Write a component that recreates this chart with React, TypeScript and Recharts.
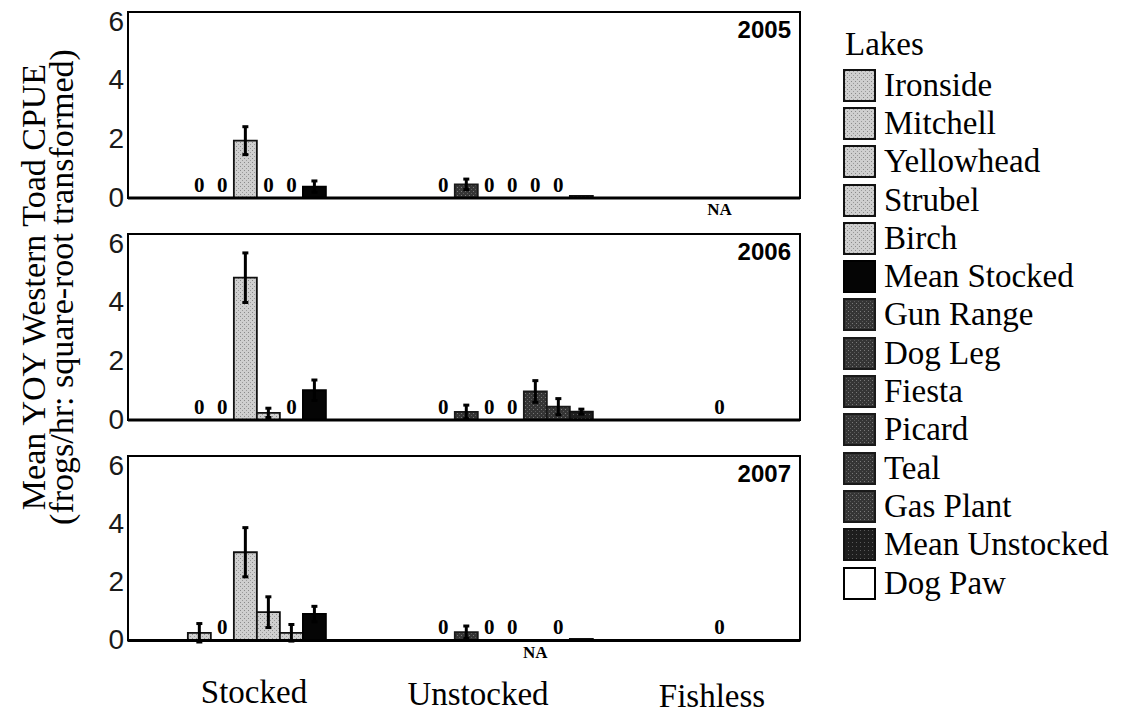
import React from 'react';
import { BarChart, Bar, XAxis, YAxis, Cell, ErrorBar, ReferenceArea, ReferenceLine, ReferenceDot } from 'recharts';

// --- data ---
const lakes = [
    'Ironside', 'Mitchell', 'Yellowhead', 'Strubel', 'Birch', 'Mean Stocked',
    'Gun Range', 'Dog Leg', 'Fiesta', 'Picard', 'Teal', 'Gas Plant', 'Mean Unstocked',
    'Dog Paw',
];
const lakeGroup = [0, 0, 0, 0, 0, 0, 1, 1, 1, 1, 1, 1, 1, 2];
const groupNames = ['Stocked', 'Unstocked', 'Fishless'];
const years = ['2005', '2006', '2007'];
const yTicks = [0, 2, 4, 6];

// null = lake not sampled (NA)
const cpue2005 = [0, 0, 1.85, 0, 0, 0.37, 0, 0.44, 0, 0, 0, 0, 0.07, null];
const cpue2006 = [0, 0, 4.59, 0.23, 0, 0.96, 0, 0.26, 0, 0, 0.92, 0.43, 0.27, 0];
const cpue2007 = [0.25, 0, 2.87, 0.92, 0.25, 0.86, 0, 0.27, 0, 0, null, 0, 0.05, 0];

const se2005 = [null, null, 0.45, null, null, 0.18, null, 0.17, null, null, null, null, null, null];
const se2006 = [null, null, 0.8, 0.15, null, 0.33, null, 0.22, null, null, 0.35, 0.26, 0.08, null];
const se2007 = [0.3, null, 0.8, 0.5, 0.27, 0.25, null, 0.2, null, null, null, null, null, null];

const panels = [
    { year: years[0], values: cpue2005, errors: se2005 },
    { year: years[1], values: cpue2006, errors: se2006 },
    { year: years[2], values: cpue2007, errors: se2007 },
];

// --- layout (x axis measured in bar widths) ---
const GROUP_START = [2.6, 13.2, 25.2];
const X_MAX = 29.2;
const BAR_PX = 23;
const PANEL_TOPS = [12, 234, 456];
const PLOT_H = 186;

const serif = '"Liberation Serif", "DejaVu Serif", serif';
const sans = '"Liberation Sans", Arial, sans-serif';

const lakePos = lakes.map((_, i) => {
    const g = lakeGroup[i];
    const first = lakeGroup.indexOf(g);
    return GROUP_START[g] + (i - first) + 0.5;
});

// stippled greys for the lake bars, flat fills for the means
const lakeStyle = (i: number) => {
    const isMean = lakes[i].startsWith('Mean');
    if (lakeGroup[i] === 0) return isMean ? { fill: '#050505', stroke: '#000' } : { fill: 'url(#stipLight)', stroke: '#111' };
    if (lakeGroup[i] === 1) return isMean ? { fill: 'url(#stipMean)', stroke: '#111' } : { fill: 'url(#stipDark)', stroke: '#1a1a1a' };
    return { fill: '#ffffff', stroke: '#000' };
};

const Patterns = () => (
    <svg width={0} height={0} style={{ position: 'absolute' }}>
        <defs>
            <pattern id="stipLight" width={4} height={4} patternUnits="userSpaceOnUse">
                <rect width={4} height={4} fill="#cfcfcf" />
                <rect x={0} y={0} width={1} height={1} fill="#8a8a8a" />
                <rect x={2} y={2} width={1} height={1} fill="#9a9a9a" />
            </pattern>
            <pattern id="stipDark" width={4} height={4} patternUnits="userSpaceOnUse">
                <rect width={4} height={4} fill="#353535" />
                <rect x={1} y={1} width={1} height={1} fill="#7a7a7a" />
                <rect x={3} y={3} width={1} height={1} fill="#5a5a5a" />
            </pattern>
            <pattern id="stipMean" width={4} height={4} patternUnits="userSpaceOnUse">
                <rect width={4} height={4} fill="#1e1e1e" />
                <rect x={1} y={2} width={1} height={1} fill="#5a5a5a" />
            </pattern>
        </defs>
    </svg>
);

// --- small renderers ---
const YTick = (props: any) => {
    const { x, y, payload } = props;
    return (
        <text x={x} y={y + 9 + payload.value * 1.6} textAnchor="end" fontFamily={sans} fontSize={28} fill="#1a1a1a">
            {payload.value}
        </text>
    );
};

const noteStyle = { fontFamily: serif, fontWeight: 'bold', fill: '#000' };

const Panel: React.FC<{ year: string; values: (number | null)[]; errors: (number | null)[] }> = ({ year, values, errors }) => {
    const data = lakes.map((name, i) => ({ name, pos: lakePos[i], value: values[i], err: errors[i] }));
    return (
        <BarChart width={810} height={PLOT_H + 36} data={data} margin={{ top: 10, right: 10, bottom: 26, left: 98 }}>
            <XAxis type="number" dataKey="pos" domain={[0, X_MAX]} allowDataOverflow hide />
            <YAxis domain={[0, 6]} ticks={yTicks} width={30} axisLine={false} tickLine={false} tickSize={0} tickMargin={4} interval={0} tick={<YTick />} />
            <ReferenceArea
                x1={0} x2={X_MAX} y1={0} y2={6}
                fill="none" stroke="#000" strokeWidth={2}
                label={{ value: year, position: 'insideTopRight', offset: 9, fontFamily: sans, fontWeight: 'bold', fontSize: 24, fill: '#000' }}
            />
            <ReferenceLine y={0} stroke="#000" strokeWidth={3} />
            <Bar dataKey="value" barSize={BAR_PX} isAnimationActive={false}>
                {data.map((d, i) => {
                    const s = lakeStyle(i);
                    return <Cell key={d.name} fill={s.fill} stroke={s.stroke} strokeWidth={1.8} />;
                })}
                <ErrorBar dataKey="err" width={3} strokeWidth={3} stroke="#000" direction="y" />
            </Bar>
            {/* "0" above lakes with no toads caught, "NA" under lakes not surveyed */}
            {data.filter(d => d.value === 0).map(d => (
                <ReferenceDot
                    key={d.name} x={d.pos} y={0} r={0} fill="none" stroke="none"
                    label={{ value: '0', position: 'top', offset: 6, fontSize: 21, ...noteStyle }}
                />
            ))}
            {data.filter(d => d.value === null).map(d => (
                <ReferenceDot
                    key={d.name} x={d.pos} y={0} r={0} fill="none" stroke="none"
                    label={{ value: 'NA', position: 'bottom', offset: 5, fontSize: 17, ...noteStyle }}
                />
            ))}
        </BarChart>
    );
};

const LakeLegend = () => (
    <div style={{ position: 'absolute', left: 843, top: 22, fontFamily: serif, color: '#000' }}>
        <div style={{ fontSize: 33, lineHeight: '44px', marginLeft: 2 }}>Lakes</div>
        {lakes.map((name, i) => {
            const s = lakeStyle(i);
            return (
                <div key={name} style={{ display: 'flex', alignItems: 'center', height: 38.3 }}>
                    <svg width={33} height={33} style={{ display: 'block' }}>
                        <rect x={1} y={1} width={31} height={31} fill={s.fill} stroke={s.stroke} strokeWidth={2} />
                    </svg>
                    <span style={{ fontSize: 33, marginLeft: 8, lineHeight: 1, whiteSpace: 'nowrap' }}>{name}</span>
                </div>
            );
        })}
    </div>
);

const groupLabelX = [254, 478, 712];
const groupLabelY = [703, 705, 707];

const App: React.FC = () => (
    <div style={{ position: 'absolute', left: 0, top: 0, width: 1127, height: 719, background: '#fff', overflow: 'hidden' }}>
        <Patterns />
        {panels.map((p, i) => (
            <div key={p.year} style={{ position: 'absolute', left: 0, top: PANEL_TOPS[i] - 10 }}>
                <Panel year={p.year} values={p.values} errors={p.errors} />
            </div>
        ))}
        <svg width={1127} height={719} style={{ position: 'absolute', left: 0, top: 0, pointerEvents: 'none' }}>
            <g fontFamily={serif} fontSize={34} fill="#000">
                <text transform="rotate(-90)" x={-287} y={45} textAnchor="middle">Mean YOY Western Toad CPUE</text>
                <text transform="rotate(-90)" x={-287} y={73} textAnchor="middle">(frogs/hr: square-root transformed)</text>
            </g>
            <g fontFamily={serif} fontSize={33} fill="#000">
                {groupNames.map((g, i) => (
                    <text key={g} x={groupLabelX[i]} y={groupLabelY[i]} textAnchor="middle">{g}</text>
                ))}
            </g>
        </svg>
        <LakeLegend />
    </div>
);

export default App;
